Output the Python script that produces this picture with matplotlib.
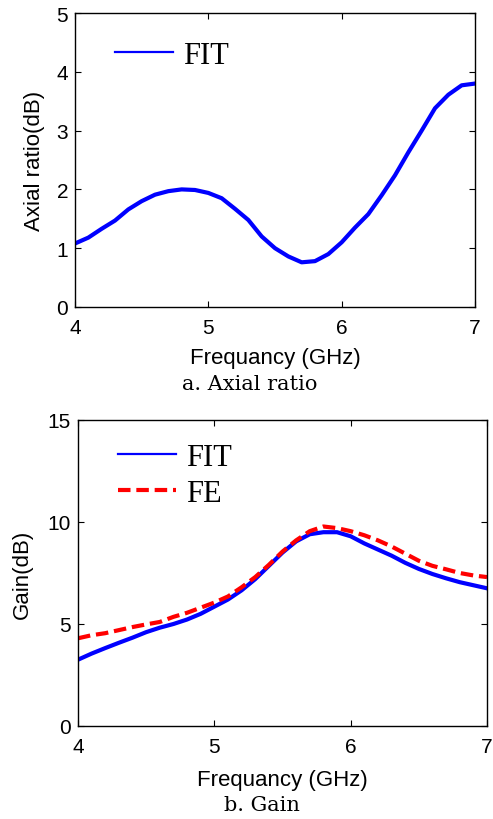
import numpy as np
import matplotlib
matplotlib.use("Agg")
import matplotlib.pyplot as plt

# ---- data ----
freq = [4.0, 4.1, 4.2, 4.3, 4.4, 4.5, 4.6, 4.7, 4.8, 4.9, 5.0, 5.1, 5.2, 5.3, 5.4, 5.5,
        5.6, 5.7, 5.8, 5.9, 6.0, 6.1, 6.2, 6.3, 6.4, 6.5, 6.6, 6.7, 6.8, 6.9, 7.0]
axial_fit = [1.08, 1.18, 1.33, 1.47, 1.66, 1.80, 1.91, 1.97, 2.00, 1.99, 1.94, 1.85, 1.67,
             1.48, 1.20, 1.00, 0.86, 0.76, 0.78, 0.90, 1.10, 1.35, 1.58, 1.90, 2.24, 2.63,
             3.00, 3.38, 3.61, 3.77, 3.80]
gain_fit = [3.25, 3.55, 3.82, 4.08, 4.33, 4.60, 4.82, 5.00, 5.22, 5.50, 5.85, 6.20, 6.65,
            7.20, 7.85, 8.50, 9.05, 9.40, 9.50, 9.50, 9.30, 8.95, 8.65, 8.35, 8.00, 7.70,
            7.45, 7.24, 7.05, 6.90, 6.75]
gain_fe = [4.30, 4.45, 4.55, 4.70, 4.85, 4.98, 5.10, 5.35, 5.55, 5.80, 6.05, 6.35, 6.80,
           7.30, 7.90, 8.55, 9.10, 9.55, 9.78, 9.70, 9.55, 9.35, 9.10, 8.80, 8.45, 8.10,
           7.85, 7.68, 7.50, 7.38, 7.30]
xticks = [4, 5, 6, 7]
yticks_top = [0, 1, 2, 3, 4, 5]
yticks_bot = [0, 5, 10, 15]

plt.rcParams['font.family'] = ['Liberation Sans', 'DejaVu Sans']

fig = plt.figure(figsize=(4.93, 8.2), dpi=100)
W, H = 493, 820

def px_axes(l, r, t, b):
    return fig.add_axes([l / W, 1 - b / H, (r - l) / W, (b - t) / H])

ax1 = px_axes(75, 475, 14, 308)
ax2 = px_axes(78, 487, 421, 727)

for ax in (ax1, ax2):
    ax.tick_params(direction='in', top=True, right=True, length=4, width=0.8,
                   labelsize=15)
    ax.tick_params(axis='x', pad=8)
    ax.tick_params(axis='y', pad=5)
    for s in ax.spines.values():
        s.set_linewidth(1.0)
    ax.set_xlim(4, 7)
    ax.set_xticks(xticks)

ax1.set_xlabel('Frequancy (GHz)', fontsize=16, labelpad=7)
ax2.set_xlabel('Frequancy (GHz)', fontsize=16, labelpad=9)

ax1.plot(freq, axial_fit, color='#0000ff', lw=3, label='FIT')
ax1.set_ylim(0, 5)
ax1.set_yticks(yticks_top)
ax1.set_ylabel('Axial ratio(dB)', fontsize=16, labelpad=8)
leg1 = ax1.legend(loc='upper left', bbox_to_anchor=(0.03, 1.0), frameon=False,
                  prop={'family': 'Liberation Serif', 'size': 22},
                  handlelength=1.9, handletextpad=0.35)
for l in leg1.get_lines():
    l.set_linewidth(1.6)

ax2.plot(freq, gain_fit, color='#0000ff', lw=3, label='FIT')
ax2.plot(freq, gain_fe, color='#ff0000', lw=3, dashes=(3, 1.4), label='FE')
ax2.set_ylim(0, 15)
ax2.set_yticks(yticks_bot)
ax2.set_ylabel('Gain(dB)', fontsize=16, labelpad=11)
leg2 = ax2.legend(loc='upper left', bbox_to_anchor=(0.03, 1.015), frameon=False,
                  prop={'family': 'Liberation Serif', 'size': 22},
                  handlelength=1.9, handletextpad=0.35, labelspacing=0.22)
for l in leg2.get_lines():
    l.set_linewidth(1.6 if l.get_label() == 'FIT' else 3)

fig.text(250 / W, 1 - 385 / H, 'a. Axial ratio', ha='center', va='center',
         fontsize=15, family='DejaVu Serif')
fig.text(262 / W, 1 - 806 / H, 'b. Gain', ha='center', va='center',
         fontsize=15, family='DejaVu Serif')

fig.savefig('out.png', dpi=100)
